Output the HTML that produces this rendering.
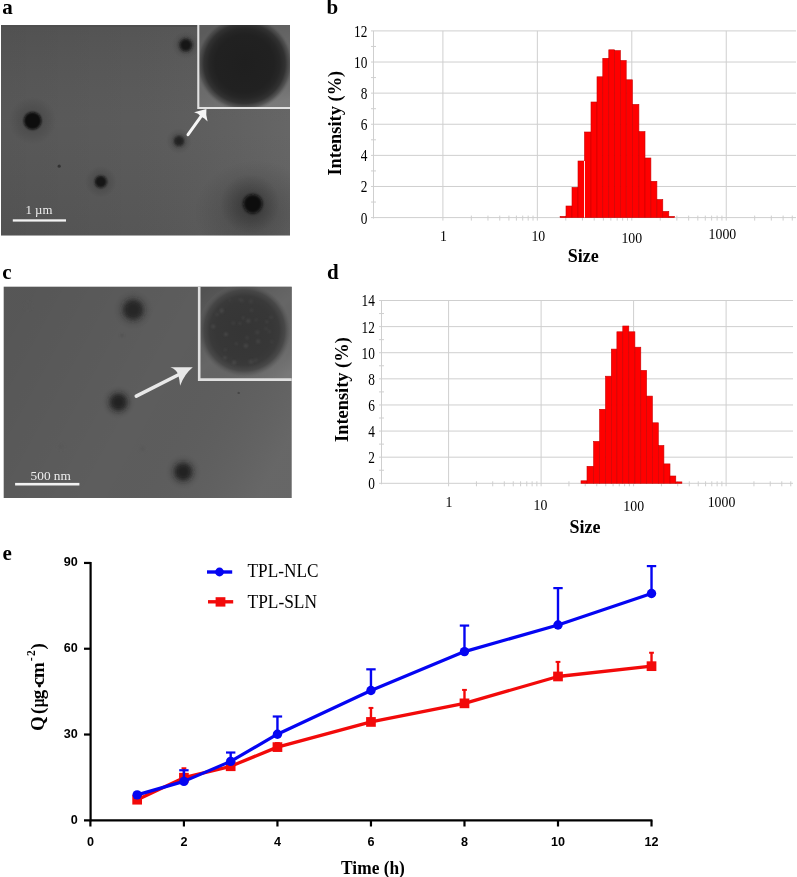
<!DOCTYPE html>
<html><head><meta charset="utf-8"><style>
html,body{margin:0;padding:0;background:#fff;}
body{width:797px;height:877px;overflow:hidden;font-family:"Liberation Serif",serif;}
svg{display:block;will-change:transform;}
</style></head><body>
<svg width="797" height="877" viewBox="0 0 797 877">
<defs>
<filter id="bl6" x="-100%" y="-100%" width="300%" height="300%"><feGaussianBlur stdDeviation="0.6"/></filter>
<filter id="bl8" x="-100%" y="-100%" width="300%" height="300%"><feGaussianBlur stdDeviation="0.8"/></filter>
<filter id="bl10" x="-100%" y="-100%" width="300%" height="300%"><feGaussianBlur stdDeviation="1.0"/></filter>
<filter id="bl12" x="-100%" y="-100%" width="300%" height="300%"><feGaussianBlur stdDeviation="1.2"/></filter>
<filter id="bl13" x="-100%" y="-100%" width="300%" height="300%"><feGaussianBlur stdDeviation="1.3"/></filter>
<filter id="bl14" x="-100%" y="-100%" width="300%" height="300%"><feGaussianBlur stdDeviation="1.4"/></filter>
<filter id="bl15" x="-100%" y="-100%" width="300%" height="300%"><feGaussianBlur stdDeviation="1.5"/></filter>
<filter id="bl16" x="-100%" y="-100%" width="300%" height="300%"><feGaussianBlur stdDeviation="1.6"/></filter>
<filter id="bl25" x="-100%" y="-100%" width="300%" height="300%"><feGaussianBlur stdDeviation="2.5"/></filter>
<filter id="bl20" x="-100%" y="-100%" width="300%" height="300%"><feGaussianBlur stdDeviation="2.0"/></filter>
<radialGradient id="insA" cx="0.5" cy="0.5" r="0.5">
 <stop offset="0" stop-color="#1f1f1f"/><stop offset="0.6" stop-color="#212121"/><stop offset="0.72" stop-color="#262626"/><stop offset="0.83" stop-color="#323232"/><stop offset="0.92" stop-color="#464646" stop-opacity="0.7"/><stop offset="1" stop-color="#666" stop-opacity="0"/>
</radialGradient>
<radialGradient id="insC" cx="0.5" cy="0.5" r="0.5">
 <stop offset="0" stop-color="#353535"/><stop offset="0.6" stop-color="#373737"/><stop offset="0.74" stop-color="#3a3a3a"/><stop offset="0.86" stop-color="#434343" stop-opacity="0.85"/><stop offset="0.94" stop-color="#555" stop-opacity="0.45"/><stop offset="1" stop-color="#666" stop-opacity="0"/>
</radialGradient>
<linearGradient id="insBgA" x1="0.35" y1="0" x2="0.65" y2="1">
 <stop offset="0" stop-color="#000" stop-opacity="0.16"/><stop offset="0.5" stop-color="#000" stop-opacity="0"/><stop offset="1" stop-color="#fff" stop-opacity="0.1"/>
</linearGradient>
<linearGradient id="insBgC" x1="0.1" y1="0" x2="0.9" y2="1">
 <stop offset="0" stop-color="#000" stop-opacity="0.2"/><stop offset="0.5" stop-color="#000" stop-opacity="0"/><stop offset="1" stop-color="#fff" stop-opacity="0.12"/>
</linearGradient>
<radialGradient id="halo3" cx="0.5" cy="0.5" r="0.5">
 <stop offset="0" stop-color="#000" stop-opacity="0.3"/><stop offset="0.5" stop-color="#000" stop-opacity="0.15"/><stop offset="1" stop-color="#000" stop-opacity="0"/>
</radialGradient>
<radialGradient id="halo2" cx="0.5" cy="0.5" r="0.5">
 <stop offset="0" stop-color="#000" stop-opacity="0.22"/><stop offset="0.4" stop-color="#000" stop-opacity="0.13"/><stop offset="1" stop-color="#000" stop-opacity="0"/>
</radialGradient>
<clipPath id="clipAimg"><rect x="1" y="25" width="289" height="210.5"/></clipPath>
<radialGradient id="halo" cx="0.5" cy="0.5" r="0.5">
 <stop offset="0" stop-color="#000" stop-opacity="0.22"/><stop offset="1" stop-color="#000" stop-opacity="0"/>
</radialGradient>
<linearGradient id="vigA" x1="0" y1="0" x2="1" y2="0">
 <stop offset="0" stop-color="#000" stop-opacity="0.08"/><stop offset="0.5" stop-color="#000" stop-opacity="0.03"/><stop offset="1" stop-color="#fff" stop-opacity="0.05"/>
</linearGradient>
<linearGradient id="vigA2" x1="0" y1="0" x2="0" y2="1">
 <stop offset="0" stop-color="#000" stop-opacity="0.04"/><stop offset="0.5" stop-color="#fff" stop-opacity="0.02"/><stop offset="1" stop-color="#000" stop-opacity="0.02"/>
</linearGradient>
<linearGradient id="vigC" x1="0" y1="0.3" x2="1" y2="0.7">
 <stop offset="0" stop-color="#000" stop-opacity="0.07"/><stop offset="0.5" stop-color="#000" stop-opacity="0"/><stop offset="1" stop-color="#fff" stop-opacity="0.06"/>
</linearGradient>
<clipPath id="clipA"><rect x="198.3" y="25" width="91.7" height="83"/></clipPath>
<clipPath id="clipC"><rect x="199.2" y="286.7" width="92.5" height="92.9"/></clipPath>
</defs>
<rect width="797" height="877" fill="#fff"/>
<text x="2.3" y="14.2" font-family="Liberation Serif" font-weight="bold" font-size="21">a</text>
<text x="326.5" y="14.3" font-family="Liberation Serif" font-weight="bold" font-size="21">b</text>
<text x="2.3" y="278.5" font-family="Liberation Serif" font-weight="bold" font-size="21">c</text>
<text x="327" y="278.7" font-family="Liberation Serif" font-weight="bold" font-size="21">d</text>
<text x="2.6" y="560.2" font-family="Liberation Serif" font-weight="bold" font-size="21">e</text>
<rect x="1" y="25" width="289" height="210.5" fill="#5b5b5b"/>
<rect x="1" y="25" width="289" height="210.5" fill="url(#vigA)"/>
<rect x="1" y="25" width="289" height="210.5" fill="url(#vigA2)"/>
<rect x="1" y="25" width="289" height="2" fill="#4e4e4e"/>
<g clip-path="url(#clipAimg)">
<ellipse cx="256" cy="212" rx="62" ry="52" fill="url(#halo2)"/>
<circle cx="250" cy="204" r="30" fill="url(#halo3)"/>
<circle cx="32.6" cy="120.7" r="24" fill="url(#halo)"/>
<circle cx="100.8" cy="181.8" r="16" fill="url(#halo)"/>
<circle cx="185.8" cy="45.1" r="14" fill="url(#halo)"/>
<circle cx="179" cy="141" r="13" fill="url(#halo)"/>
</g>
<circle cx="185.8" cy="45.1" r="6.5" fill="#141414" filter="url(#bl14)"/>
<circle cx="32.6" cy="120.7" r="8.8" fill="#0b0b0b" filter="url(#bl12)"/>
<circle cx="179" cy="141" r="5.2" fill="#202020" filter="url(#bl16)"/>
<circle cx="100.8" cy="181.8" r="6" fill="#161616" filter="url(#bl10)"/>
<circle cx="59.2" cy="166.2" r="1.6" fill="#333333" filter="url(#bl6)"/>
<circle cx="252.8" cy="203.8" r="9.6" fill="#0c0c0c" filter="url(#bl16)"/>
<g clip-path="url(#clipA)">
<rect x="198.3" y="25" width="91.69999999999999" height="83" fill="#6c6c6c"/>
<rect x="198.3" y="25" width="91.69999999999999" height="83" fill="url(#insBgA)"/>
<ellipse cx="244.5" cy="63.5" rx="49" ry="48" fill="url(#insA)"/>
</g>
<path d="M198.3 25 V108 H290" stroke="#e2e2e2" stroke-width="2.1" fill="none"/>
<path d="M188 134.7 L201.6 115.6" stroke="#f6f6f6" stroke-width="3" stroke-linecap="round" fill="none"/>
<path d="M206.4 109 L194.1 112.3 Q198.6 113.2 200.9 116.6 Q204.6 118 207.6 121.6 Q205.6 114.6 206.4 109 Z" fill="#f6f6f6"/>
<rect x="12.8" y="219.3" width="53.2" height="2.3" fill="#f2f2f2"/>
<text x="25.5" y="213.8" font-family="Liberation Serif" font-size="12.8" fill="#eeeeee">1 µm</text>
<rect x="3.7" y="286.7" width="288.0" height="211.3" fill="#5d5d5d"/>
<rect x="3.7" y="286.7" width="288.0" height="211.3" fill="url(#vigC)"/>
<circle cx="133.2" cy="309.8" r="20" fill="url(#halo)"/>
<circle cx="118.4" cy="402.2" r="17" fill="url(#halo)"/>
<circle cx="183.2" cy="471.8" r="18" fill="url(#halo)"/>
<circle cx="133.2" cy="309.8" r="10" fill="#262626" filter="url(#bl25)"/>
<circle cx="118.4" cy="402.2" r="8.5" fill="#242424" filter="url(#bl25)"/>
<circle cx="183.2" cy="471.8" r="8.8" fill="#242424" filter="url(#bl25)"/>
<circle cx="27.8" cy="306" r="3" fill="#575757" filter="url(#bl15)"/>
<circle cx="122" cy="335.5" r="1.6" fill="#505050" filter="url(#bl8)"/>
<circle cx="238.7" cy="392.9" r="1.2" fill="#474747" filter="url(#bl6)"/>
<circle cx="61" cy="446.5" r="2.5" fill="#585858" filter="url(#bl15)"/>
<circle cx="142.5" cy="448.4" r="2.5" fill="#585858" filter="url(#bl15)"/>
<g clip-path="url(#clipC)">
<rect x="199.2" y="286.7" width="92.5" height="92.90000000000003" fill="#666"/>
<rect x="199.2" y="286.7" width="92.5" height="92.90000000000003" fill="url(#insBgC)"/>
<ellipse cx="244.4" cy="330.5" rx="47" ry="47" fill="url(#insC)"/>
<circle cx="221.6" cy="311.2" r="2.1" fill="#5a5a5a" opacity="0.40" filter="url(#bl10)"/>
<circle cx="240.0" cy="299.4" r="1.7" fill="#5a5a5a" opacity="0.21" filter="url(#bl10)"/>
<circle cx="266.9" cy="321.7" r="1.3" fill="#5a5a5a" opacity="0.43" filter="url(#bl10)"/>
<circle cx="225.9" cy="334.2" r="1.8" fill="#5a5a5a" opacity="0.54" filter="url(#bl10)"/>
<circle cx="257.3" cy="332.3" r="2.1" fill="#5a5a5a" opacity="0.27" filter="url(#bl10)"/>
<circle cx="243.3" cy="317.9" r="1.3" fill="#5a5a5a" opacity="0.40" filter="url(#bl10)"/>
<circle cx="233.3" cy="323.1" r="2.1" fill="#5a5a5a" opacity="0.20" filter="url(#bl10)"/>
<circle cx="245.9" cy="345.8" r="2.1" fill="#5a5a5a" opacity="0.45" filter="url(#bl10)"/>
<circle cx="234.1" cy="362.4" r="1.9" fill="#5a5a5a" opacity="0.53" filter="url(#bl10)"/>
<circle cx="251.0" cy="361.7" r="2.2" fill="#5a5a5a" opacity="0.37" filter="url(#bl10)"/>
<circle cx="256.2" cy="319.8" r="1.4" fill="#5a5a5a" opacity="0.29" filter="url(#bl10)"/>
<circle cx="247.1" cy="337.7" r="1.8" fill="#5a5a5a" opacity="0.28" filter="url(#bl10)"/>
<circle cx="269.2" cy="331.6" r="1.5" fill="#5a5a5a" opacity="0.28" filter="url(#bl10)"/>
<circle cx="251.5" cy="310.2" r="1.7" fill="#5a5a5a" opacity="0.28" filter="url(#bl10)"/>
<circle cx="239.8" cy="323.4" r="1.2" fill="#5a5a5a" opacity="0.44" filter="url(#bl10)"/>
<circle cx="242.0" cy="300.7" r="2.0" fill="#5a5a5a" opacity="0.20" filter="url(#bl10)"/>
<circle cx="225.3" cy="349.7" r="1.2" fill="#5a5a5a" opacity="0.40" filter="url(#bl10)"/>
<circle cx="255.6" cy="360.3" r="2.0" fill="#5a5a5a" opacity="0.25" filter="url(#bl10)"/>
<circle cx="271.0" cy="317.3" r="1.6" fill="#5a5a5a" opacity="0.29" filter="url(#bl10)"/>
<circle cx="213.3" cy="326.5" r="1.9" fill="#5a5a5a" opacity="0.43" filter="url(#bl10)"/>
<circle cx="250.9" cy="301.7" r="2.1" fill="#5a5a5a" opacity="0.21" filter="url(#bl10)"/>
<circle cx="258.2" cy="341.4" r="2.1" fill="#5a5a5a" opacity="0.35" filter="url(#bl10)"/>
<circle cx="225.0" cy="357.8" r="1.5" fill="#5a5a5a" opacity="0.54" filter="url(#bl10)"/>
<circle cx="236.3" cy="343.7" r="1.3" fill="#5a5a5a" opacity="0.42" filter="url(#bl10)"/>
<circle cx="229.7" cy="300.4" r="1.2" fill="#5a5a5a" opacity="0.24" filter="url(#bl10)"/>
<circle cx="266.0" cy="329.0" r="1.4" fill="#5a5a5a" opacity="0.30" filter="url(#bl10)"/>
<circle cx="217.1" cy="314.3" r="1.6" fill="#5a5a5a" opacity="0.31" filter="url(#bl10)"/>
<circle cx="271.7" cy="341.8" r="1.7" fill="#5a5a5a" opacity="0.21" filter="url(#bl10)"/>
<circle cx="248.3" cy="320.9" r="2.1" fill="#5a5a5a" opacity="0.38" filter="url(#bl10)"/>
<circle cx="222.0" cy="309.6" r="1.6" fill="#5a5a5a" opacity="0.23" filter="url(#bl10)"/>
</g>
<path d="M199.2 286.7 V379.6 H291.7" stroke="#e0e0e0" stroke-width="2.6" fill="none"/>
<path d="M136.3 396.2 L178 375" stroke="#e8e8e8" stroke-width="3.6" stroke-linecap="round" fill="none"/>
<path d="M192.8 367.3 L170.4 367.3 Q176.5 369.5 178.2 374.6 Q179.6 380 180.1 385.7 Q184.5 374 192.8 367.3 Z" fill="#e8e8e8"/>
<rect x="15.1" y="482.9" width="64.3" height="2.6" fill="#f2f2f2"/>
<text x="30.6" y="479.9" font-family="Liberation Serif" font-size="13.3" fill="#eeeeee">500 nm</text>
<line x1="371" y1="217.6" x2="796" y2="217.6" stroke="#cfcfcf" stroke-width="1"/>
<line x1="371" y1="186.48333333333332" x2="796" y2="186.48333333333332" stroke="#cfcfcf" stroke-width="1"/>
<line x1="371" y1="155.36666666666667" x2="796" y2="155.36666666666667" stroke="#cfcfcf" stroke-width="1"/>
<line x1="371" y1="124.25" x2="796" y2="124.25" stroke="#cfcfcf" stroke-width="1"/>
<line x1="371" y1="93.13333333333334" x2="796" y2="93.13333333333334" stroke="#cfcfcf" stroke-width="1"/>
<line x1="371" y1="62.01666666666668" x2="796" y2="62.01666666666668" stroke="#cfcfcf" stroke-width="1"/>
<line x1="371" y1="30.900000000000006" x2="796" y2="30.900000000000006" stroke="#cfcfcf" stroke-width="1"/>
<line x1="371" y1="202.04166666666666" x2="376" y2="202.04166666666666" stroke="#cfcfcf" stroke-width="1"/>
<line x1="371" y1="170.925" x2="376" y2="170.925" stroke="#cfcfcf" stroke-width="1"/>
<line x1="371" y1="139.80833333333334" x2="376" y2="139.80833333333334" stroke="#cfcfcf" stroke-width="1"/>
<line x1="371" y1="108.69166666666668" x2="376" y2="108.69166666666668" stroke="#cfcfcf" stroke-width="1"/>
<line x1="371" y1="77.57500000000002" x2="376" y2="77.57500000000002" stroke="#cfcfcf" stroke-width="1"/>
<line x1="371" y1="46.45833333333334" x2="376" y2="46.45833333333334" stroke="#cfcfcf" stroke-width="1"/>
<line x1="373.5" y1="30.900000000000006" x2="373.5" y2="218.6" stroke="#cfcfcf" stroke-width="1"/>
<line x1="442.9" y1="30.900000000000006" x2="442.9" y2="220.6" stroke="#cfcfcf" stroke-width="1"/>
<line x1="537.35" y1="30.900000000000006" x2="537.35" y2="220.6" stroke="#cfcfcf" stroke-width="1"/>
<line x1="631.8" y1="30.900000000000006" x2="631.8" y2="220.6" stroke="#cfcfcf" stroke-width="1"/>
<line x1="726.25" y1="30.900000000000006" x2="726.25" y2="220.6" stroke="#cfcfcf" stroke-width="1"/>
<line x1="471.332283090463" y1="215.6" x2="471.332283090463" y2="220.6" stroke="#cfcfcf" stroke-width="1"/>
<line x1="487.9641025082721" y1="215.6" x2="487.9641025082721" y2="220.6" stroke="#cfcfcf" stroke-width="1"/>
<line x1="499.764566180926" y1="215.6" x2="499.764566180926" y2="220.6" stroke="#cfcfcf" stroke-width="1"/>
<line x1="508.917716909537" y1="215.6" x2="508.917716909537" y2="220.6" stroke="#cfcfcf" stroke-width="1"/>
<line x1="516.3963855987352" y1="215.6" x2="516.3963855987352" y2="220.6" stroke="#cfcfcf" stroke-width="1"/>
<line x1="522.7195098793466" y1="215.6" x2="522.7195098793466" y2="220.6" stroke="#cfcfcf" stroke-width="1"/>
<line x1="528.196849271389" y1="215.6" x2="528.196849271389" y2="220.6" stroke="#cfcfcf" stroke-width="1"/>
<line x1="533.0282050165442" y1="215.6" x2="533.0282050165442" y2="220.6" stroke="#cfcfcf" stroke-width="1"/>
<line x1="565.782283090463" y1="215.6" x2="565.782283090463" y2="220.6" stroke="#cfcfcf" stroke-width="1"/>
<line x1="582.4141025082721" y1="215.6" x2="582.4141025082721" y2="220.6" stroke="#cfcfcf" stroke-width="1"/>
<line x1="594.214566180926" y1="215.6" x2="594.214566180926" y2="220.6" stroke="#cfcfcf" stroke-width="1"/>
<line x1="603.367716909537" y1="215.6" x2="603.367716909537" y2="220.6" stroke="#cfcfcf" stroke-width="1"/>
<line x1="610.8463855987351" y1="215.6" x2="610.8463855987351" y2="220.6" stroke="#cfcfcf" stroke-width="1"/>
<line x1="617.1695098793466" y1="215.6" x2="617.1695098793466" y2="220.6" stroke="#cfcfcf" stroke-width="1"/>
<line x1="622.6468492713891" y1="215.6" x2="622.6468492713891" y2="220.6" stroke="#cfcfcf" stroke-width="1"/>
<line x1="627.4782050165442" y1="215.6" x2="627.4782050165442" y2="220.6" stroke="#cfcfcf" stroke-width="1"/>
<line x1="660.2322830904629" y1="215.6" x2="660.2322830904629" y2="220.6" stroke="#cfcfcf" stroke-width="1"/>
<line x1="676.8641025082721" y1="215.6" x2="676.8641025082721" y2="220.6" stroke="#cfcfcf" stroke-width="1"/>
<line x1="688.664566180926" y1="215.6" x2="688.664566180926" y2="220.6" stroke="#cfcfcf" stroke-width="1"/>
<line x1="697.817716909537" y1="215.6" x2="697.817716909537" y2="220.6" stroke="#cfcfcf" stroke-width="1"/>
<line x1="705.2963855987351" y1="215.6" x2="705.2963855987351" y2="220.6" stroke="#cfcfcf" stroke-width="1"/>
<line x1="711.6195098793465" y1="215.6" x2="711.6195098793465" y2="220.6" stroke="#cfcfcf" stroke-width="1"/>
<line x1="717.0968492713891" y1="215.6" x2="717.0968492713891" y2="220.6" stroke="#cfcfcf" stroke-width="1"/>
<line x1="721.9282050165442" y1="215.6" x2="721.9282050165442" y2="220.6" stroke="#cfcfcf" stroke-width="1"/>
<line x1="754.682283090463" y1="215.6" x2="754.682283090463" y2="220.6" stroke="#cfcfcf" stroke-width="1"/>
<line x1="771.3141025082721" y1="215.6" x2="771.3141025082721" y2="220.6" stroke="#cfcfcf" stroke-width="1"/>
<line x1="783.114566180926" y1="215.6" x2="783.114566180926" y2="220.6" stroke="#cfcfcf" stroke-width="1"/>
<line x1="792.267716909537" y1="215.6" x2="792.267716909537" y2="220.6" stroke="#cfcfcf" stroke-width="1"/>
<rect x="560.1" y="216.4" width="5.899999999999977" height="1.1999999999999886" fill="#ff0000" stroke="#c80000" stroke-width="0.6"/>
<rect x="566" y="206" width="6" height="11.599999999999994" fill="#ff0000" stroke="#c80000" stroke-width="0.6"/>
<rect x="572" y="187.4" width="6" height="30.19999999999999" fill="#ff0000" stroke="#c80000" stroke-width="0.6"/>
<rect x="578" y="161" width="6.5" height="56.599999999999994" fill="#ff0000" stroke="#c80000" stroke-width="0.6"/>
<rect x="584.5" y="132" width="6.5" height="85.6" fill="#ff0000" stroke="#c80000" stroke-width="0.6"/>
<rect x="591" y="102" width="6" height="115.6" fill="#ff0000" stroke="#c80000" stroke-width="0.6"/>
<rect x="597" y="76.8" width="5.7999999999999545" height="140.8" fill="#ff0000" stroke="#c80000" stroke-width="0.6"/>
<rect x="602.8" y="58.3" width="6.0" height="159.3" fill="#ff0000" stroke="#c80000" stroke-width="0.6"/>
<rect x="608.8" y="49.8" width="5.800000000000068" height="167.8" fill="#ff0000" stroke="#c80000" stroke-width="0.6"/>
<rect x="614.6" y="50.6" width="5.7999999999999545" height="167.0" fill="#ff0000" stroke="#c80000" stroke-width="0.6"/>
<rect x="620.4" y="60.5" width="5.800000000000068" height="157.1" fill="#ff0000" stroke="#c80000" stroke-width="0.6"/>
<rect x="626.2" y="79.8" width="6.199999999999932" height="137.8" fill="#ff0000" stroke="#c80000" stroke-width="0.6"/>
<rect x="632.4" y="104.4" width="6.5" height="113.19999999999999" fill="#ff0000" stroke="#c80000" stroke-width="0.6"/>
<rect x="638.9" y="131.6" width="6.100000000000023" height="86.0" fill="#ff0000" stroke="#c80000" stroke-width="0.6"/>
<rect x="645" y="158" width="5.899999999999977" height="59.599999999999994" fill="#ff0000" stroke="#c80000" stroke-width="0.6"/>
<rect x="650.9" y="181.3" width="6.0" height="36.29999999999998" fill="#ff0000" stroke="#c80000" stroke-width="0.6"/>
<rect x="656.9" y="199.5" width="5.899999999999977" height="18.099999999999994" fill="#ff0000" stroke="#c80000" stroke-width="0.6"/>
<rect x="662.8" y="211.4" width="6.0" height="6.199999999999989" fill="#ff0000" stroke="#c80000" stroke-width="0.6"/>
<rect x="668.8" y="216.4" width="5.800000000000068" height="1.1999999999999886" fill="#ff0000" stroke="#c80000" stroke-width="0.6"/>
<line x1="584.5" y1="161" x2="584.5" y2="217.6" stroke="#fff" stroke-width="0.9"/>
<text transform="translate(367.3,223.5) scale(0.89,1.05)" font-family="Liberation Serif" font-size="15" text-anchor="end">0</text>
<text transform="translate(367.3,192.38333333333333) scale(0.89,1.05)" font-family="Liberation Serif" font-size="15" text-anchor="end">2</text>
<text transform="translate(367.3,161.26666666666668) scale(0.89,1.05)" font-family="Liberation Serif" font-size="15" text-anchor="end">4</text>
<text transform="translate(367.3,130.15) scale(0.89,1.05)" font-family="Liberation Serif" font-size="15" text-anchor="end">6</text>
<text transform="translate(367.3,99.03333333333335) scale(0.89,1.05)" font-family="Liberation Serif" font-size="15" text-anchor="end">8</text>
<text transform="translate(367.3,67.91666666666669) scale(0.89,1.05)" font-family="Liberation Serif" font-size="15" text-anchor="end">10</text>
<text transform="translate(367.3,36.800000000000004) scale(0.89,1.05)" font-family="Liberation Serif" font-size="15" text-anchor="end">12</text>
<text transform="translate(443.5,241) scale(0.92,1)" font-family="Liberation Serif" font-size="15" text-anchor="middle">1</text>
<text transform="translate(538.3,241) scale(0.92,1)" font-family="Liberation Serif" font-size="15" text-anchor="middle">10</text>
<text transform="translate(631.8,243.4) scale(0.92,1)" font-family="Liberation Serif" font-size="15" text-anchor="middle">100</text>
<text transform="translate(722.4,239.2) scale(0.92,1)" font-family="Liberation Serif" font-size="15" text-anchor="middle">1000</text>
<text x="583.2" y="262.4" font-family="Liberation Serif" font-size="18" font-weight="bold" text-anchor="middle">Size</text>
<text transform="translate(341,123.2) rotate(-90)" x="0" y="0" font-family="Liberation Serif" font-size="18.4" font-weight="bold" text-anchor="middle">Intensity (%)</text>
<line x1="379" y1="483.3" x2="793" y2="483.3" stroke="#cfcfcf" stroke-width="1"/>
<line x1="379" y1="457.1857142857143" x2="793" y2="457.1857142857143" stroke="#cfcfcf" stroke-width="1"/>
<line x1="379" y1="431.07142857142856" x2="793" y2="431.07142857142856" stroke="#cfcfcf" stroke-width="1"/>
<line x1="379" y1="404.95714285714286" x2="793" y2="404.95714285714286" stroke="#cfcfcf" stroke-width="1"/>
<line x1="379" y1="378.84285714285716" x2="793" y2="378.84285714285716" stroke="#cfcfcf" stroke-width="1"/>
<line x1="379" y1="352.7285714285714" x2="793" y2="352.7285714285714" stroke="#cfcfcf" stroke-width="1"/>
<line x1="379" y1="326.6142857142857" x2="793" y2="326.6142857142857" stroke="#cfcfcf" stroke-width="1"/>
<line x1="379" y1="300.5" x2="793" y2="300.5" stroke="#cfcfcf" stroke-width="1"/>
<line x1="379" y1="470.24285714285713" x2="384" y2="470.24285714285713" stroke="#cfcfcf" stroke-width="1"/>
<line x1="379" y1="444.12857142857143" x2="384" y2="444.12857142857143" stroke="#cfcfcf" stroke-width="1"/>
<line x1="379" y1="418.01428571428573" x2="384" y2="418.01428571428573" stroke="#cfcfcf" stroke-width="1"/>
<line x1="379" y1="391.9" x2="384" y2="391.9" stroke="#cfcfcf" stroke-width="1"/>
<line x1="379" y1="365.7857142857143" x2="384" y2="365.7857142857143" stroke="#cfcfcf" stroke-width="1"/>
<line x1="379" y1="339.6714285714286" x2="384" y2="339.6714285714286" stroke="#cfcfcf" stroke-width="1"/>
<line x1="379" y1="313.5571428571428" x2="384" y2="313.5571428571428" stroke="#cfcfcf" stroke-width="1"/>
<line x1="381.5" y1="300.5" x2="381.5" y2="484.3" stroke="#cfcfcf" stroke-width="1"/>
<line x1="448.6" y1="300.5" x2="448.6" y2="486.3" stroke="#cfcfcf" stroke-width="1"/>
<line x1="541.1" y1="300.5" x2="541.1" y2="486.3" stroke="#cfcfcf" stroke-width="1"/>
<line x1="633.6" y1="300.5" x2="633.6" y2="486.3" stroke="#cfcfcf" stroke-width="1"/>
<line x1="726.1" y1="300.5" x2="726.1" y2="486.3" stroke="#cfcfcf" stroke-width="1"/>
<line x1="476.4452745989183" y1="481.3" x2="476.4452745989183" y2="486.3" stroke="#cfcfcf" stroke-width="1"/>
<line x1="492.73371606156877" y1="481.3" x2="492.73371606156877" y2="486.3" stroke="#cfcfcf" stroke-width="1"/>
<line x1="504.2905491978365" y1="481.3" x2="504.2905491978365" y2="486.3" stroke="#cfcfcf" stroke-width="1"/>
<line x1="513.2547254010817" y1="481.3" x2="513.2547254010817" y2="486.3" stroke="#cfcfcf" stroke-width="1"/>
<line x1="520.5789906604871" y1="481.3" x2="520.5789906604871" y2="486.3" stroke="#cfcfcf" stroke-width="1"/>
<line x1="526.7715687013188" y1="481.3" x2="526.7715687013188" y2="486.3" stroke="#cfcfcf" stroke-width="1"/>
<line x1="532.1358237967548" y1="481.3" x2="532.1358237967548" y2="486.3" stroke="#cfcfcf" stroke-width="1"/>
<line x1="536.8674321231376" y1="481.3" x2="536.8674321231376" y2="486.3" stroke="#cfcfcf" stroke-width="1"/>
<line x1="568.9452745989183" y1="481.3" x2="568.9452745989183" y2="486.3" stroke="#cfcfcf" stroke-width="1"/>
<line x1="585.2337160615688" y1="481.3" x2="585.2337160615688" y2="486.3" stroke="#cfcfcf" stroke-width="1"/>
<line x1="596.7905491978365" y1="481.3" x2="596.7905491978365" y2="486.3" stroke="#cfcfcf" stroke-width="1"/>
<line x1="605.7547254010817" y1="481.3" x2="605.7547254010817" y2="486.3" stroke="#cfcfcf" stroke-width="1"/>
<line x1="613.0789906604871" y1="481.3" x2="613.0789906604871" y2="486.3" stroke="#cfcfcf" stroke-width="1"/>
<line x1="619.2715687013188" y1="481.3" x2="619.2715687013188" y2="486.3" stroke="#cfcfcf" stroke-width="1"/>
<line x1="624.6358237967548" y1="481.3" x2="624.6358237967548" y2="486.3" stroke="#cfcfcf" stroke-width="1"/>
<line x1="629.3674321231376" y1="481.3" x2="629.3674321231376" y2="486.3" stroke="#cfcfcf" stroke-width="1"/>
<line x1="661.4452745989183" y1="481.3" x2="661.4452745989183" y2="486.3" stroke="#cfcfcf" stroke-width="1"/>
<line x1="677.7337160615689" y1="481.3" x2="677.7337160615689" y2="486.3" stroke="#cfcfcf" stroke-width="1"/>
<line x1="689.2905491978365" y1="481.3" x2="689.2905491978365" y2="486.3" stroke="#cfcfcf" stroke-width="1"/>
<line x1="698.2547254010817" y1="481.3" x2="698.2547254010817" y2="486.3" stroke="#cfcfcf" stroke-width="1"/>
<line x1="705.5789906604871" y1="481.3" x2="705.5789906604871" y2="486.3" stroke="#cfcfcf" stroke-width="1"/>
<line x1="711.7715687013188" y1="481.3" x2="711.7715687013188" y2="486.3" stroke="#cfcfcf" stroke-width="1"/>
<line x1="717.1358237967548" y1="481.3" x2="717.1358237967548" y2="486.3" stroke="#cfcfcf" stroke-width="1"/>
<line x1="721.8674321231376" y1="481.3" x2="721.8674321231376" y2="486.3" stroke="#cfcfcf" stroke-width="1"/>
<line x1="753.9452745989183" y1="481.3" x2="753.9452745989183" y2="486.3" stroke="#cfcfcf" stroke-width="1"/>
<line x1="770.2337160615689" y1="481.3" x2="770.2337160615689" y2="486.3" stroke="#cfcfcf" stroke-width="1"/>
<line x1="781.7905491978365" y1="481.3" x2="781.7905491978365" y2="486.3" stroke="#cfcfcf" stroke-width="1"/>
<line x1="790.7547254010817" y1="481.3" x2="790.7547254010817" y2="486.3" stroke="#cfcfcf" stroke-width="1"/>
<rect x="581" y="480.8" width="6" height="2.5" fill="#ff0000" stroke="#c80000" stroke-width="0.6"/>
<rect x="587" y="466.3" width="6.600000000000023" height="17.0" fill="#ff0000" stroke="#c80000" stroke-width="0.6"/>
<rect x="593.6" y="441.4" width="6.0" height="41.900000000000034" fill="#ff0000" stroke="#c80000" stroke-width="0.6"/>
<rect x="599.6" y="409.3" width="5.899999999999977" height="74.0" fill="#ff0000" stroke="#c80000" stroke-width="0.6"/>
<rect x="605.5" y="376.2" width="5.7999999999999545" height="107.10000000000002" fill="#ff0000" stroke="#c80000" stroke-width="0.6"/>
<rect x="611.3" y="349.1" width="5.600000000000023" height="134.2" fill="#ff0000" stroke="#c80000" stroke-width="0.6"/>
<rect x="616.9" y="331.8" width="5.899999999999977" height="151.5" fill="#ff0000" stroke="#c80000" stroke-width="0.6"/>
<rect x="622.8" y="326" width="6.0" height="157.3" fill="#ff0000" stroke="#c80000" stroke-width="0.6"/>
<rect x="628.8" y="331.8" width="6.100000000000023" height="151.5" fill="#ff0000" stroke="#c80000" stroke-width="0.6"/>
<rect x="634.9" y="347.2" width="5.899999999999977" height="136.10000000000002" fill="#ff0000" stroke="#c80000" stroke-width="0.6"/>
<rect x="640.8" y="370.4" width="5.800000000000068" height="112.90000000000003" fill="#ff0000" stroke="#c80000" stroke-width="0.6"/>
<rect x="646.6" y="396.1" width="5.7999999999999545" height="87.19999999999999" fill="#ff0000" stroke="#c80000" stroke-width="0.6"/>
<rect x="652.4" y="422.8" width="5.899999999999977" height="60.5" fill="#ff0000" stroke="#c80000" stroke-width="0.6"/>
<rect x="658.3" y="445.5" width="5.600000000000023" height="37.80000000000001" fill="#ff0000" stroke="#c80000" stroke-width="0.6"/>
<rect x="663.9" y="463.9" width="6.100000000000023" height="19.400000000000034" fill="#ff0000" stroke="#c80000" stroke-width="0.6"/>
<rect x="670" y="476" width="5.7999999999999545" height="7.300000000000011" fill="#ff0000" stroke="#c80000" stroke-width="0.6"/>
<rect x="675.8" y="481.9" width="6.100000000000023" height="1.400000000000034" fill="#ff0000" stroke="#c80000" stroke-width="0.6"/>
<text transform="translate(374.8,489.2) scale(0.89,1.05)" font-family="Liberation Serif" font-size="15" text-anchor="end">0</text>
<text transform="translate(374.8,463.0857142857143) scale(0.89,1.05)" font-family="Liberation Serif" font-size="15" text-anchor="end">2</text>
<text transform="translate(374.8,436.97142857142853) scale(0.89,1.05)" font-family="Liberation Serif" font-size="15" text-anchor="end">4</text>
<text transform="translate(374.8,410.85714285714283) scale(0.89,1.05)" font-family="Liberation Serif" font-size="15" text-anchor="end">6</text>
<text transform="translate(374.8,384.74285714285713) scale(0.89,1.05)" font-family="Liberation Serif" font-size="15" text-anchor="end">8</text>
<text transform="translate(374.8,358.6285714285714) scale(0.89,1.05)" font-family="Liberation Serif" font-size="15" text-anchor="end">10</text>
<text transform="translate(374.8,332.5142857142857) scale(0.89,1.05)" font-family="Liberation Serif" font-size="15" text-anchor="end">12</text>
<text transform="translate(374.8,306.4) scale(0.89,1.05)" font-family="Liberation Serif" font-size="15" text-anchor="end">14</text>
<text transform="translate(449,506.8) scale(0.92,1)" font-family="Liberation Serif" font-size="15" text-anchor="middle">1</text>
<text transform="translate(540.5,509.7) scale(0.92,1)" font-family="Liberation Serif" font-size="15" text-anchor="middle">10</text>
<text transform="translate(633.7,510.6) scale(0.92,1)" font-family="Liberation Serif" font-size="15" text-anchor="middle">100</text>
<text transform="translate(721.5,507.2) scale(0.92,1)" font-family="Liberation Serif" font-size="15" text-anchor="middle">1000</text>
<text x="585" y="532.6" font-family="Liberation Serif" font-size="18" font-weight="bold" text-anchor="middle">Size</text>
<text transform="translate(348,389.6) rotate(-90)" x="0" y="0" font-family="Liberation Serif" font-size="18.4" font-weight="bold" text-anchor="middle">Intensity (%)</text>
<line x1="90.6" y1="562" x2="90.6" y2="821.3" stroke="#000" stroke-width="2.2"/>
<line x1="84" y1="820.3" x2="652.4" y2="820.3" stroke="#000" stroke-width="2.2"/>
<line x1="84" y1="734.5179999999999" x2="90.6" y2="734.5179999999999" stroke="#000" stroke-width="2.2"/>
<line x1="84" y1="648.736" x2="90.6" y2="648.736" stroke="#000" stroke-width="2.2"/>
<line x1="84" y1="562.954" x2="90.6" y2="562.954" stroke="#000" stroke-width="2.2"/>
<line x1="90.4" y1="820.3" x2="90.4" y2="826.5" stroke="#000" stroke-width="2.2"/>
<line x1="183.92000000000002" y1="820.3" x2="183.92000000000002" y2="826.5" stroke="#000" stroke-width="2.2"/>
<line x1="277.44" y1="820.3" x2="277.44" y2="826.5" stroke="#000" stroke-width="2.2"/>
<line x1="370.96000000000004" y1="820.3" x2="370.96000000000004" y2="826.5" stroke="#000" stroke-width="2.2"/>
<line x1="464.48" y1="820.3" x2="464.48" y2="826.5" stroke="#000" stroke-width="2.2"/>
<line x1="558.0" y1="820.3" x2="558.0" y2="826.5" stroke="#000" stroke-width="2.2"/>
<line x1="651.52" y1="820.3" x2="651.52" y2="826.5" stroke="#000" stroke-width="2.2"/>
<text x="77.8" y="823.6999999999999" font-family="Liberation Sans" font-weight="bold" font-size="12.6" text-anchor="end">0</text>
<text x="77.8" y="737.9179999999999" font-family="Liberation Sans" font-weight="bold" font-size="12.6" text-anchor="end">30</text>
<text x="77.8" y="652.136" font-family="Liberation Sans" font-weight="bold" font-size="12.6" text-anchor="end">60</text>
<text x="77.8" y="566.3539999999999" font-family="Liberation Sans" font-weight="bold" font-size="12.6" text-anchor="end">90</text>
<text x="90.4" y="845.7" font-family="Liberation Sans" font-weight="bold" font-size="12.6" text-anchor="middle">0</text>
<text x="183.92000000000002" y="845.7" font-family="Liberation Sans" font-weight="bold" font-size="12.6" text-anchor="middle">2</text>
<text x="277.44" y="845.7" font-family="Liberation Sans" font-weight="bold" font-size="12.6" text-anchor="middle">4</text>
<text x="370.96000000000004" y="845.7" font-family="Liberation Sans" font-weight="bold" font-size="12.6" text-anchor="middle">6</text>
<text x="464.48" y="845.7" font-family="Liberation Sans" font-weight="bold" font-size="12.6" text-anchor="middle">8</text>
<text x="558.0" y="845.7" font-family="Liberation Sans" font-weight="bold" font-size="12.6" text-anchor="middle">10</text>
<text x="651.52" y="845.7" font-family="Liberation Sans" font-weight="bold" font-size="12.6" text-anchor="middle">12</text>
<text x="341.1" y="874" font-family="Liberation Serif" font-weight="bold" font-size="18.6" textLength="63.8" lengthAdjust="spacingAndGlyphs">Time (h)</text>
<g transform="translate(43.9,730.4) rotate(-90)" font-family="Liberation Serif" font-weight="bold" font-size="19"><text x="-0.7" y="0">Q</text><text x="16.3" y="0">(</text><text transform="translate(23.2,0) scale(0.8,1)">µ</text><text x="31.2" y="0">g</text><text x="41.3" y="2.2">·</text><text x="45" y="0">c</text><text x="52.3" y="0">m</text><text x="69.2" y="-8.5" font-size="11.5">-</text><text x="74.4" y="-8.5" font-size="11.5">2</text><text x="80.8" y="0">)</text></g>
<line x1="183.92000000000002" y1="777.69494" x2="183.92000000000002" y2="768.25892" stroke="#f20a0a" stroke-width="2.4"/>
<line x1="181.52" y1="768.25892" x2="186.32000000000002" y2="768.25892" stroke="#f20a0a" stroke-width="2"/>
<line x1="230.68" y1="766.25734" x2="230.68" y2="763.112" stroke="#f20a0a" stroke-width="2.4"/>
<line x1="228.28" y1="763.112" x2="233.08" y2="763.112" stroke="#f20a0a" stroke-width="2"/>
<line x1="277.44" y1="747.0993599999999" x2="277.44" y2="743.0962" stroke="#f20a0a" stroke-width="2.4"/>
<line x1="275.04" y1="743.0962" x2="279.84" y2="743.0962" stroke="#f20a0a" stroke-width="2"/>
<line x1="370.96000000000004" y1="721.9366399999999" x2="370.96000000000004" y2="707.92558" stroke="#f20a0a" stroke-width="2.4"/>
<line x1="368.56000000000006" y1="707.92558" x2="373.36" y2="707.92558" stroke="#f20a0a" stroke-width="2"/>
<line x1="464.48" y1="703.3505399999999" x2="464.48" y2="689.91136" stroke="#f20a0a" stroke-width="2.4"/>
<line x1="462.08000000000004" y1="689.91136" x2="466.88" y2="689.91136" stroke="#f20a0a" stroke-width="2"/>
<line x1="558.0" y1="676.47218" x2="558.0" y2="661.88924" stroke="#f20a0a" stroke-width="2.4"/>
<line x1="555.6" y1="661.88924" x2="560.4" y2="661.88924" stroke="#f20a0a" stroke-width="2"/>
<line x1="651.52" y1="666.1783399999999" x2="651.52" y2="652.73916" stroke="#f20a0a" stroke-width="2.4"/>
<line x1="649.12" y1="652.73916" x2="653.92" y2="652.73916" stroke="#f20a0a" stroke-width="2"/>
<polyline points="137.2,799.7 183.9,777.7 230.7,766.3 277.4,747.1 371.0,721.9 464.5,703.4 558.0,676.5 651.5,666.2" fill="none" stroke="#f20a0a" stroke-width="3.3" stroke-linejoin="round"/>
<rect x="132.31" y="794.86232" width="9.7" height="9.7" fill="#f20a0a"/>
<rect x="179.07000000000002" y="772.84494" width="9.7" height="9.7" fill="#f20a0a"/>
<rect x="225.83" y="761.40734" width="9.7" height="9.7" fill="#f20a0a"/>
<rect x="272.59" y="742.2493599999999" width="9.7" height="9.7" fill="#f20a0a"/>
<rect x="366.11" y="717.0866399999999" width="9.7" height="9.7" fill="#f20a0a"/>
<rect x="459.63" y="698.5005399999999" width="9.7" height="9.7" fill="#f20a0a"/>
<rect x="553.15" y="671.62218" width="9.7" height="9.7" fill="#f20a0a"/>
<rect x="646.67" y="661.3283399999999" width="9.7" height="9.7" fill="#f20a0a"/>
<line x1="183.92000000000002" y1="781.41216" x2="183.92000000000002" y2="770.2605" stroke="#0505f2" stroke-width="2.4"/>
<line x1="179.22000000000003" y1="770.2605" x2="188.62" y2="770.2605" stroke="#0505f2" stroke-width="2.2"/>
<line x1="230.68" y1="761.39636" x2="230.68" y2="752.5322199999999" stroke="#0505f2" stroke-width="2.4"/>
<line x1="225.98000000000002" y1="752.5322199999999" x2="235.38" y2="752.5322199999999" stroke="#0505f2" stroke-width="2.2"/>
<line x1="277.44" y1="734.2320599999999" x2="277.44" y2="716.50378" stroke="#0505f2" stroke-width="2.4"/>
<line x1="272.74" y1="716.50378" x2="282.14" y2="716.50378" stroke="#0505f2" stroke-width="2.2"/>
<line x1="370.96000000000004" y1="690.48324" x2="370.96000000000004" y2="669.32368" stroke="#0505f2" stroke-width="2.4"/>
<line x1="366.26000000000005" y1="669.32368" x2="375.66" y2="669.32368" stroke="#0505f2" stroke-width="2.2"/>
<line x1="464.48" y1="651.5953999999999" x2="464.48" y2="625.57486" stroke="#0505f2" stroke-width="2.4"/>
<line x1="459.78000000000003" y1="625.57486" x2="469.18" y2="625.57486" stroke="#0505f2" stroke-width="2.2"/>
<line x1="558.0" y1="625.00298" x2="558.0" y2="588.11672" stroke="#0505f2" stroke-width="2.4"/>
<line x1="553.3" y1="588.11672" x2="562.7" y2="588.11672" stroke="#0505f2" stroke-width="2.2"/>
<line x1="651.52" y1="593.54958" x2="651.52" y2="566.09934" stroke="#0505f2" stroke-width="2.4"/>
<line x1="646.8199999999999" y1="566.09934" x2="656.22" y2="566.09934" stroke="#0505f2" stroke-width="2.2"/>
<polyline points="137.2,794.9 183.9,781.4 230.7,761.4 277.4,734.2 371.0,690.5 464.5,651.6 558.0,625.0 651.5,593.5" fill="none" stroke="#0505f2" stroke-width="3.2" stroke-linejoin="round"/>
<circle cx="137.16" cy="794.8513399999999" r="4.7" fill="#0505f2"/>
<circle cx="183.92000000000002" cy="781.41216" r="4.7" fill="#0505f2"/>
<circle cx="230.68" cy="761.39636" r="4.7" fill="#0505f2"/>
<circle cx="277.44" cy="734.2320599999999" r="4.7" fill="#0505f2"/>
<circle cx="370.96000000000004" cy="690.48324" r="4.7" fill="#0505f2"/>
<circle cx="464.48" cy="651.5953999999999" r="4.7" fill="#0505f2"/>
<circle cx="558.0" cy="625.00298" r="4.7" fill="#0505f2"/>
<circle cx="651.52" cy="593.54958" r="4.7" fill="#0505f2"/>
<line x1="207" y1="572" x2="232.2" y2="572" stroke="#0505f2" stroke-width="3.4"/>
<circle cx="219.5" cy="572" r="4.4" fill="#0505f2"/>
<line x1="208" y1="601.8" x2="233.2" y2="601.8" stroke="#f20a0a" stroke-width="3.4"/>
<rect x="215.6" y="597.2" width="9.8" height="9.4" fill="#f20a0a"/>
<text x="247.6" y="576.6" font-family="Liberation Serif" font-size="18.6" textLength="70.8" lengthAdjust="spacingAndGlyphs">TPL-NLC</text>
<text x="247.6" y="607.6" font-family="Liberation Serif" font-size="18.6" textLength="69.4" lengthAdjust="spacingAndGlyphs">TPL-SLN</text>
</svg>
</body></html>
